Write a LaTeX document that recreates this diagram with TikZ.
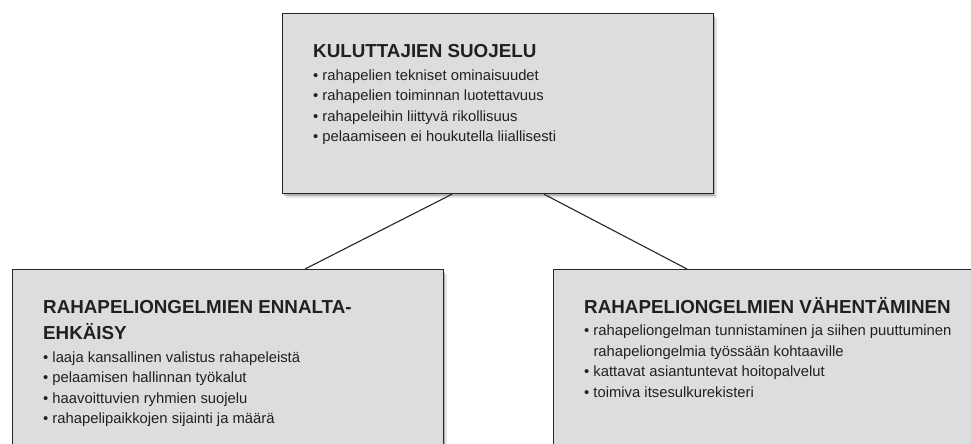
\documentclass[tikz,border=0pt]{standalone}
\usepackage{fontspec}
\setmainfont{Liberation Sans}
\usetikzlibrary{calc,shadows}
\definecolor{boxfill}{RGB}{220,221,223}
\definecolor{boxline}{RGB}{38,38,38}
\definecolor{txt}{RGB}{35,31,32}
\begin{document}
\begin{tikzpicture}[x=1pt,y=-1pt,
  box/.style={rectangle, draw=boxline, line width=1.2pt, fill=boxfill, inner sep=0pt, anchor=north west,
    general shadow={fill=black, opacity=0.10, shadow xshift=3pt, shadow yshift=-4pt},
    general shadow={fill=black, opacity=0.22, shadow xshift=1.5pt, shadow yshift=-2pt}},
  ttl/.style={anchor=base west, inner sep=0pt, text=txt, font=\fontsize{18.8}{26}\selectfont\bfseries},
  bul/.style={anchor=base west, inner sep=0pt, text=txt, font=\fontsize{14.8}{20.5}\selectfont},
  conn/.style={draw=boxline, line width=1.1pt}]
\useasboundingbox (0,0) rectangle (971,444);
\clip (0,0) rectangle (971,444);
\fill[white] (0,0) rectangle (971,444);

% boxes
\node[box, minimum width=431pt, minimum height=180pt] (top) at (282,13) {};
\node[box, minimum width=431pt, minimum height=200pt] (left) at (12,269) {};
\node[box, minimum width=440pt, minimum height=200pt] (right) at (553,269) {};

% connectors
\draw[conn] ($(top.south west)+(170,0)$) -- ($(left.north west)+(293,0)$);
\draw[conn] ($(top.south west)+(262,0)$) -- ($(right.north west)+(134,0)$);

% top box text
\node[ttl] (a0) at (313,58) {KULUTTAJIEN SUOJELU};
\node[bul] (a1) at (313,80) {• rahapelien tekniset ominaisuudet};
\node[bul] (a2) at (313,100.5) {• rahapelien toiminnan luotettavuus};
\node[bul] (a3) at (313,121) {• rahapeleihin liittyvä rikollisuus};
\node[bul] (a4) at (313,141.5) {• pelaamiseen ei houkutella liiallisesti};

% left box text
\node[ttl] (b0) at (43,313) {RAHAPELIONGELMIEN ENNALTA-};
\node[ttl] (b0b) at (43,339) {EHKÄISY};
\node[bul] (b1) at (43,362) {• laaja kansallinen valistus rahapeleistä};
\node[bul] (b2) at (43,382.5) {• pelaamisen hallinnan työkalut};
\node[bul] (b3) at (43,403) {• haavoittuvien ryhmien suojelu};
\node[bul] (b4) at (43,423.5) {• rahapelipaikkojen sijainti ja määrä};

% right box text
\node[ttl] (c0) at (584,313) {RAHAPELIONGELMIEN VÄHENTÄMINEN};
\node[bul] (c1) at (584,335.5) {• rahapeliongelman tunnistaminen ja siihen puuttuminen};
\node[bul] (c1b) at (593.3,356) {rahapeliongelmia työssään kohtaaville};
\node[bul] (c2) at (584,376.5) {• kattavat asiantuntevat hoitopalvelut};
\node[bul] (c3) at (584,397) {• toimiva itsesulkurekisteri};
\end{tikzpicture}
\end{document}
